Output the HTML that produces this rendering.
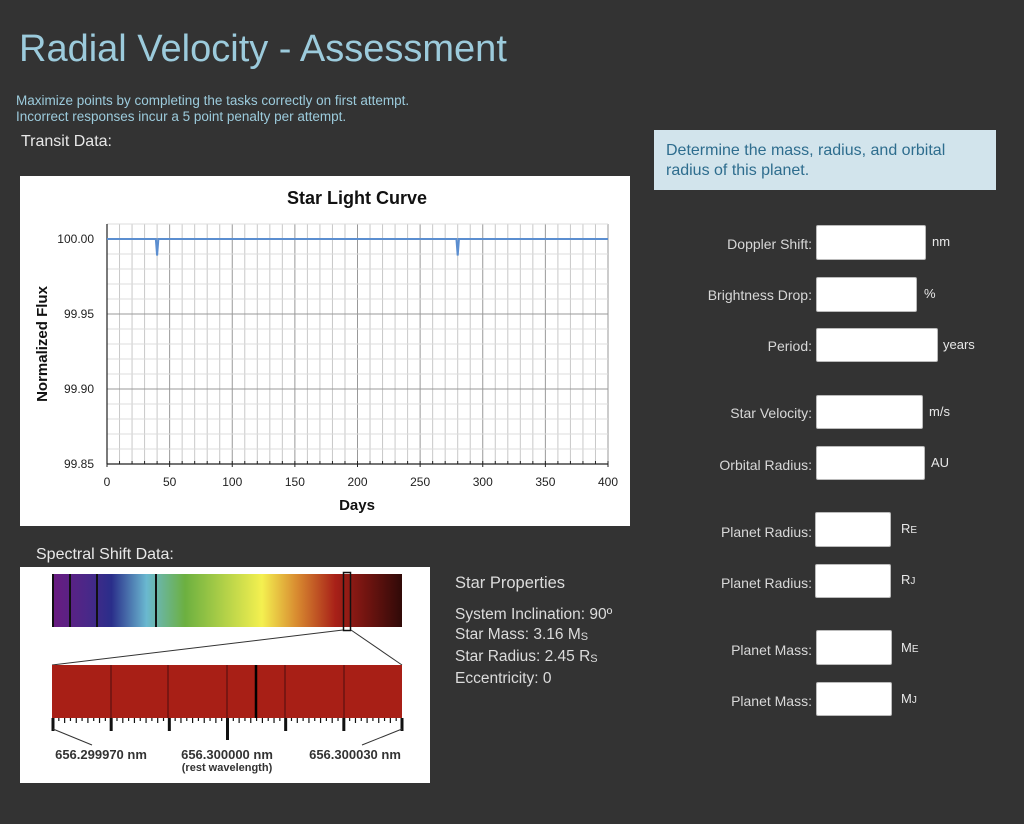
<!DOCTYPE html>
<html><head><meta charset="utf-8"><style>
body{margin:0;width:1024px;height:824px;background:#333333;font-family:"Liberation Sans","DejaVu Sans",sans-serif;position:relative;overflow:hidden}
.a{position:absolute}
.lbl{position:absolute;right:212px;color:#d8d8d8;font-size:14px;line-height:18px;text-align:right}
.inp{position:absolute;background:#fff;border:1px solid #bbb;border-radius:2px;box-sizing:border-box}
.unit{position:absolute;color:#e8e8e8;font-size:13px;line-height:16px}
</style></head><body>
<div class="a" style="left:19px;top:28px;font-size:38px;color:#9ccbdc">Radial Velocity - Assessment</div>
<div class="a" style="left:16px;top:93px;font-size:13.5px;line-height:16px;color:#9ccbdc">Maximize points by completing the tasks correctly on first attempt.<br>Incorrect responses incur a 5 point penalty per attempt.</div>
<div class="a" style="left:21px;top:133px;font-size:16px;color:#e8e8e8">Transit Data:</div>
<div class="a" style="left:654px;top:130px;width:342px;height:60px;background:#d2e4ec;box-sizing:border-box;padding:11px 12px;font-size:16px;line-height:20px;color:#2e6d8e">Determine the mass, radius, and orbital radius of this planet.</div>

<svg class="a" style="left:20px;top:176px" width="610" height="350" id="chart"></svg>

<div class="a" style="left:36px;top:546px;font-size:16px;color:#e8e8e8">Spectral Shift Data:</div>
<svg class="a" style="left:20px;top:567px" width="410" height="216">
<defs><linearGradient id="g" x1="0" x2="1">
<stop offset="0" stop-color="#6a1b80"/><stop offset="0.1" stop-color="#4a2888"/><stop offset="0.17" stop-color="#2a2e8a"/><stop offset="0.27" stop-color="#6ab8d0"/><stop offset="0.38" stop-color="#6cb040"/><stop offset="0.6" stop-color="#f4f050"/><stop offset="0.7" stop-color="#d88a30"/><stop offset="0.81" stop-color="#a82018"/><stop offset="0.9" stop-color="#701410"/><stop offset="1" stop-color="#300a08"/></linearGradient></defs>
<rect width="410" height="216" fill="#fff"/>
<rect x="32" y="7" width="350" height="53" fill="url(#g)"/>
<g stroke="#111" stroke-width="2"><line x1="33" y1="7" x2="33" y2="60"/><line x1="50" y1="7" x2="50" y2="60"/><line x1="77" y1="7" x2="77" y2="60"/><line x1="136" y1="7" x2="136" y2="60"/></g>
<rect x="323.5" y="5.5" width="7" height="58" fill="none" stroke="#111" stroke-width="1.5"/>
<g stroke="#333" stroke-width="1"><line x1="323" y1="63" x2="32" y2="98"/><line x1="331" y1="63" x2="382" y2="98"/></g>
<rect x="32" y="98" width="350" height="53" fill="#a81f16"/>
<g stroke="#6a1410" stroke-width="1.5"><line x1="91" y1="98" x2="91" y2="151"/><line x1="148" y1="98" x2="148" y2="151"/><line x1="207" y1="98" x2="207" y2="151"/><line x1="265" y1="98" x2="265" y2="151"/><line x1="324" y1="98" x2="324" y2="151"/></g>
<line x1="236" y1="98" x2="236" y2="151" stroke="#000" stroke-width="2.5"/>
<g id="ticks" stroke="#111"></g>
<g stroke="#333"><line x1="33" y1="162" x2="72" y2="178"/><line x1="382" y1="162" x2="342" y2="178"/></g>
<g font-family="Liberation Sans,Arial,sans-serif" font-weight="bold" fill="#333" text-anchor="middle">
<text x="81" y="192" font-size="13">656.299970 nm</text><text x="207" y="192" font-size="13">656.300000 nm</text><text x="207" y="204" font-size="11">(rest wavelength)</text><text x="335" y="192" font-size="13">656.300030 nm</text></g>
</svg>

<div class="a" style="left:455px;top:573px;color:#dcdcdc;font-size:15.5px;line-height:20px">
<div style="font-size:16.5px;margin-bottom:12px">Star Properties</div>
System Inclination: 90º<br>Star Mass: 3.16 M<sub style="font-size:11px;vertical-align:-1px">S</sub><br>Star Radius: 2.45 R<sub style="font-size:11px;vertical-align:-1px">S</sub><br>Eccentricity: 0</div>

<div class="lbl" style="top:235px">Doppler Shift:</div>
<div class="inp" style="left:816px;top:225px;width:110px;height:35px"></div>
<div class="unit" style="left:932px;top:234px">nm</div>
<div class="lbl" style="top:286px">Brightness Drop:</div>
<div class="inp" style="left:816px;top:277px;width:101px;height:35px"></div>
<div class="unit" style="left:924px;top:286px">%</div>
<div class="lbl" style="top:337px">Period:</div>
<div class="inp" style="left:816px;top:328px;width:122px;height:34px"></div>
<div class="unit" style="left:943px;top:337px">years</div>
<div class="lbl" style="top:404px">Star Velocity:</div>
<div class="inp" style="left:816px;top:395px;width:107px;height:34px"></div>
<div class="unit" style="left:929px;top:404px">m/s</div>
<div class="lbl" style="top:456px">Orbital Radius:</div>
<div class="inp" style="left:816px;top:446px;width:109px;height:34px"></div>
<div class="unit" style="left:931px;top:455px">AU</div>
<div class="lbl" style="top:523px">Planet Radius:</div>
<div class="inp" style="left:815px;top:512px;width:76px;height:35px"></div>
<div class="unit" style="left:901px;top:521px">R<span style="font-size:10px">E</span></div>
<div class="lbl" style="top:574px">Planet Radius:</div>
<div class="inp" style="left:815px;top:564px;width:76px;height:34px"></div>
<div class="unit" style="left:901px;top:572px">R<span style="font-size:10px">J</span></div>
<div class="lbl" style="top:641px">Planet Mass:</div>
<div class="inp" style="left:816px;top:630px;width:76px;height:35px"></div>
<div class="unit" style="left:901px;top:640px">M<span style="font-size:10px">E</span></div>
<div class="lbl" style="top:692px">Planet Mass:</div>
<div class="inp" style="left:816px;top:682px;width:76px;height:34px"></div>
<div class="unit" style="left:901px;top:691px">M<span style="font-size:10px">J</span></div>

<script>
const days=[0,39,40,41,279,280,281,400];
const flux=[100,100,99.989,100,100,99.989,100,100];
const xTicks=[0,50,100,150,200,250,300,350,400];
const yTicks=[99.85,99.90,99.95,100.00];
const NS="http://www.w3.org/2000/svg";
const svg=document.getElementById('chart');
const X0=87,X1=588,Y0=288,Y1=48,YMIN=99.85,YMAX=100.01;
const sx=v=>X0+(v-0)/(400-0)*(X1-X0);
const sy=v=>Y0-(v-YMIN)/(YMAX-YMIN)*(Y0-Y1);
function mk(t,a,p){const e=document.createElementNS(NS,t);for(const k in a)e.setAttribute(k,a[k]);(p||svg).appendChild(e);return e;}
mk('rect',{x:0,y:0,width:610,height:350,fill:'#fff'});
for(let d=0;d<=400;d+=10){mk('line',{x1:sx(d),x2:sx(d),y1:Y1,y2:Y0,stroke:d%50==0?'#999':'#c8c8c8','stroke-width':1});}
for(let i=0;i<=16;i++){const v=YMIN+i*0.01;mk('line',{x1:X0,x2:X1,y1:sy(v),y2:sy(v),stroke:i%5==0?'#999':'#dcdcdc','stroke-width':1});}
mk('line',{x1:X0,x2:X1,y1:Y0,y2:Y0,stroke:'#222','stroke-width':1.2});
mk('line',{x1:X0,x2:X0,y1:Y1,y2:Y0,stroke:'#222','stroke-width':1.2});
for(let d=0;d<=400;d+=10){mk('line',{x1:sx(d),x2:sx(d),y1:Y0-3,y2:Y0+(d%50==0?3:0),stroke:'#222'});}
xTicks.forEach(v=>{const t=mk('text',{x:sx(v),y:Y0+22,'text-anchor':'middle','font-size':12,fill:'#222'});t.textContent=v;

});
yTicks.forEach(v=>{const t=mk('text',{x:X0-13,y:sy(v)+4,'text-anchor':'end','font-size':12,fill:'#222'});t.textContent=v.toFixed(2);

});
const p=mk('polyline',{points:days.map((d,i)=>sx(d)+','+sy(flux[i])).join(' '),fill:'none',stroke:'#5b8ed0','stroke-width':2});


const tt=mk('text',{x:337,y:28,'text-anchor':'middle','font-size':18,'font-weight':'bold',fill:'#111'});tt.textContent='Star Light Curve';


const xt=mk('text',{x:337,y:334,'text-anchor':'middle','font-size':15,'font-weight':'bold',fill:'#111'});xt.textContent='Days';


const yt=mk('text',{x:0,y:0,'text-anchor':'middle','font-size':15,'font-weight':'bold',fill:'#111',transform:'translate(27,168) rotate(-90)'});yt.textContent='Normalized Flux';


const tg=document.getElementById('ticks');
for(let i=0;i<=60;i++){const x=33+i*349/60;const major=i%10==0;const len=(i==30)?22:(major?13:(i%2==0?5:3));
mk('line',{x1:x,x2:x,y1:151,y2:151+len,'stroke-width':major?3:1.2},tg);}
</script>
</body></html>
